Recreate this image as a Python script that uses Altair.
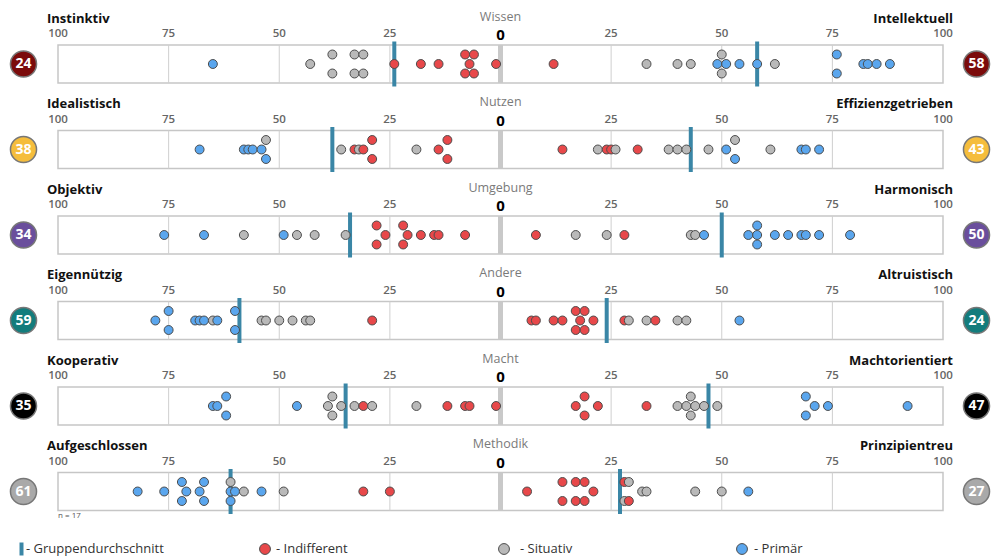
import altair as alt
import pandas as pd
import numpy as np

# ---------------- data ----------------
left_labels = ["Instinktiv", "Idealistisch", "Objektiv", "Eigennützig", "Kooperativ", "Aufgeschlossen"]
center_labels = ["Wissen", "Nutzen", "Umgebung", "Andere", "Macht", "Methodik"]
right_labels = ["Intellektuell", "Effizienzgetrieben", "Harmonisch", "Altruistisch", "Machtorientiert", "Prinzipientreu"]
left_avg = [24, 38, 34, 59, 35, 61]
right_avg = [58, 43, 50, 24, 47, 27]
badge_colors = ["#7b0b0b", "#f5bd3c", "#6a4e9c", "#137c7c", "#000000", "#a9a9a9"]
tick_values = [-100, -75, -50, -25, 0, 25, 50, 75, 100]
grid_values = [-75, -50, -25, 25, 50, 75]
n_text = "n = 17"

# categories: I = Indifferent, S = Situativ, P = Primär
wissen_left_val = [65, 43, 38, 38, 33, 33, 31, 31, 24, 18, 14, 8, 8, 7, 6, 6, 1]
wissen_left_cat = "PSSSSSSSIIIIIIIII"
wissen_right_val = [12, 33, 40, 43, 50, 50, 49, 51, 54, 58, 62, 76, 76, 82, 83, 85, 88]
wissen_right_cat = "ISSSSSPPPPSPPPPPP"

nutzen_left_val = [68, 58, 57, 56, 54, 53, 53, 36, 33, 32, 31, 29, 29, 19, 14, 12, 12]
nutzen_left_cat = "PPPPPSPSISIIISIII"
nutzen_right_val = [14, 22, 24, 25, 26, 31, 38, 40, 42, 47, 51, 53, 53, 61, 68, 69, 72]
nutzen_right_cat = "ISIISISSSSPSPSPPP"

umgebung_left_val = [76, 67, 58, 49, 46, 42, 35, 28, 28, 26, 22, 22, 21, 18, 15, 14, 8]
umgebung_left_cat = "PPSPSSSIIIIIIIIII"
umgebung_right_val = [8, 17, 24, 28, 43, 44, 46, 56, 58, 58, 58, 62, 65, 68, 69, 72, 79]
umgebung_right_cat = "ISSISSPPPPPPPPPPP"

andere_left_val = [78, 75, 75, 69, 68, 67, 65, 64, 60, 60, 54, 53, 50, 47, 44, 43, 29]
andere_left_cat = "PPPPPPSPPPSSSSSSI"
andere_right_val = [7, 8, 12, 14, 17, 17, 18, 19, 19, 21, 28, 29, 33, 35, 40, 42, 54]
andere_right_cat = "IIIIIIIIIIISSISSP"

macht_left_val = [65, 64, 62, 62, 46, 39, 38, 38, 36, 33, 31, 29, 19, 12, 8, 7, 1]
macht_left_cat = "PPPPPSSSSSISSIIII"
macht_right_val = [17, 19, 19, 22, 33, 40, 42, 43, 43, 44, 46, 49, 69, 69, 71, 74, 92]
macht_right_cat = "IIIIISSSSSSSPPPPP"

methodik_left_val = [82, 76, 72, 72, 71, 68, 67, 67, 61, 61, 61, 60, 58, 54, 49, 31, 25]
methodik_left_cat = "PPPPPPPPSPPPSPSII"
methodik_right_val = [6, 14, 14, 17, 17, 19, 19, 21, 28, 28, 29, 29, 32, 33, 44, 50, 56]
methodik_right_cat = "IIIIIIIIISSISSSSP"

cat_codes = ["I", "S", "P"]
cat_colors = ["#e8484a", "#b9b9b9", "#5aa6ee"]
avg_color = "#3a86a6"
legend_labels = ["- Gruppendurchschnitt", "- Indifferent", "- Situativ", "- Primär"]

series = [
    (wissen_left_val, wissen_left_cat, wissen_right_val, wissen_right_cat),
    (nutzen_left_val, nutzen_left_cat, nutzen_right_val, nutzen_right_cat),
    (umgebung_left_val, umgebung_left_cat, umgebung_right_val, umgebung_right_cat),
    (andere_left_val, andere_left_cat, andere_right_val, andere_right_cat),
    (macht_left_val, macht_left_cat, macht_right_val, macht_right_cat),
    (methodik_left_val, methodik_left_cat, methodik_right_val, methodik_right_cat),
]

# ---------------- layout ----------------
W, H = 984, 548
X0, X1 = 50, 935            # pixel of -100 / +100
ppu = (X1 - X0) / 200.0
xdom = [-100 - X0 / ppu, 100 + (W - X1) / ppu]
T0, PITCH, BOX_H = 37, 85.5, 38
LANE = 9.5
FONT = "Open Sans"

rows = pd.DataFrame({
    "row": range(6),
    "left": left_labels, "center": center_labels, "right": right_labels,
    "lavg": left_avg, "ravg": right_avg, "bcol": badge_colors,
})
rows["T"] = T0 + rows["row"] * PITCH
rows["B"] = rows["T"] + BOX_H
rows["C"] = rows["T"] + BOX_H / 2
rows["lab_y"] = rows["T"] - 26.5
rows["tick_y"] = rows["T"] - 11
rows["avg_t"] = rows["T"] - 3.5
rows["avg_b"] = rows["B"] + 3.5

# dots
recs = []
for r, (lv, lc, rv, rc) in enumerate(series):
    for sign, vals, cats in ((-1, lv, lc), (1, rv, rc)):
        for v, c in zip(vals, cats):
            recs.append({"row": r, "side": sign, "val": v, "x": sign * v, "cat": c})
dots = pd.DataFrame(recs)
dots["order"] = range(len(dots))
grp = dots.groupby(["row", "side", "val"])
dots["n"] = grp["val"].transform("size")
dots["idx"] = grp.cumcount()
dots["lane"] = np.where(dots["n"] == 2, 2 * dots["idx"] - 1, dots["idx"] - (dots["n"] - 1) / 2)
dots = dots.merge(rows[["row", "C"]], on="row")
dots["y"] = dots["C"] + dots["lane"] * LANE
dots = dots.sort_values("order")

# grid
grid = rows[["row", "T", "B"]].merge(pd.DataFrame({"g": grid_values}), how="cross")
# ticks
ticks = rows[["row", "tick_y"]].merge(pd.DataFrame({"t": tick_values}), how="cross")
ticks["label"] = ticks["t"].abs().astype(str)
ticks_nz = ticks[ticks["t"] != 0]
ticks_z = ticks[ticks["t"] == 0]
# averages
avgs = pd.concat([
    rows.assign(ax=-rows["lavg"]),
    rows.assign(ax=rows["ravg"]),
])
# badges
badges = pd.concat([
    rows.assign(bx=15.5, num=rows["lavg"]),
    rows.assign(bx=W - 15.5, num=rows["ravg"]),
])

xs = alt.Scale(domain=xdom, nice=False, zero=False)
ys = alt.Scale(domain=[0, H], range=[0, H], nice=False, zero=False)
pxs = alt.Scale(domain=[0, W], range=[0, W], nice=False, zero=False)


def X(f):
    return alt.X(f, type="quantitative", scale=xs, axis=None)


def Y(f):
    return alt.Y(f, type="quantitative", scale=ys, axis=None)


def Y2(f):
    return alt.Y2(f)


base_rows = alt.Chart(rows)

box = base_rows.mark_rect(fill="white", stroke="#c6c6c6", strokeWidth=1.5).encode(
    x=alt.X(datum=-100, type="quantitative", scale=xs, axis=None),
    x2=alt.X2(datum=100),
    y=Y("T"), y2=Y2("B"),
)
gridl = alt.Chart(grid).mark_rule(color="#cfcfcf", strokeWidth=1).encode(
    x=X("g"), y=Y("T"), y2=Y2("B")
)
center = base_rows.mark_rule(color="#c9c9c9", strokeWidth=5).encode(
    x=alt.X(datum=0, type="quantitative", scale=xs, axis=None),
    y=Y("T"), y2=Y2("B"),
)
avgl = alt.Chart(avgs).mark_rule(color=avg_color, strokeWidth=4).encode(
    x=X("ax"), y=Y("avg_t"), y2=Y2("avg_b")
)
pts = alt.Chart(dots).mark_circle(size=80, opacity=1, stroke="#4d4d4d", strokeWidth=1).encode(
    x=X("x"), y=Y("y"),
    color=alt.Color("cat:N", scale=alt.Scale(domain=cat_codes, range=cat_colors), legend=None),
    order=alt.Order("order:Q"),
)
tick_txt = alt.Chart(ticks_nz).mark_text(
    font=FONT, fontSize=11.5, fontWeight=600, color="#666666", baseline="middle", align="center"
).encode(x=X("t"), y=Y("tick_y"), text="label:N")
zero_txt = alt.Chart(ticks_z).mark_text(
    font=FONT, fontSize=15, fontWeight="bold", color="#000000", baseline="middle", align="center", dy=1
).encode(x=X("t"), y=Y("tick_y"), text="label:N")

left_txt = base_rows.mark_text(
    font=FONT, fontSize=13, fontWeight="bold", color="#111111", baseline="middle", align="left"
).encode(x=alt.value(X0 - 11), y=Y("lab_y"), text="left:N")
right_txt = base_rows.mark_text(
    font=FONT, fontSize=13, fontWeight="bold", color="#111111", baseline="middle", align="right"
).encode(x=alt.value(X1 + 10), y=Y("lab_y"), text="right:N")
center_txt = base_rows.mark_text(
    font=FONT, fontSize=12.5, color="#7a7a7a", baseline="middle", align="center", dy=-2
).encode(x=alt.X(datum=0, type="quantitative", scale=xs, axis=None), y=Y("lab_y"), text="center:N")

badge = alt.Chart(badges).mark_circle(size=680, opacity=1, stroke="#777777", strokeWidth=1.5).encode(
    x=alt.X("bx:Q", scale=pxs, axis=None),
    y=Y("C"),
    color=alt.Color("bcol:N", scale=None),
)
badge_txt = alt.Chart(badges).mark_text(
    font=FONT, fontSize=14, fontWeight="bold", color="white", baseline="middle", align="center"
).encode(
    x=alt.X("bx:Q", scale=pxs, axis=None),
    y=Y("C"), text="num:N",
)

nrow = rows[rows["row"] == 5].assign(ny=lambda d: d["B"] + 5.5, nt=n_text)
n_txt = alt.Chart(nrow).mark_text(
    font=FONT, fontSize=8, color="#555555", baseline="middle", align="left"
).encode(x=alt.value(X0), y=Y("ny"), text="nt:N")

# legend
LEG_Y = 541
leg_sym_x = [13.5, 257, 496, 734]
leg_txt_x = [18, 268, 512, 746]
leg = pd.DataFrame({
    "label": legend_labels,
    "col": [avg_color] + cat_colors,
    "sx": leg_sym_x, "tx": leg_txt_x,
    "kind": ["bar", "dot", "dot", "dot"],
})
leg["y"] = LEG_Y
leg["y1"] = LEG_Y - 6.5
leg["y2"] = LEG_Y + 6.5
leg_bar = alt.Chart(leg[leg["kind"] == "bar"]).mark_rule(strokeWidth=4).encode(
    x=alt.X("sx:Q", scale=pxs, axis=None), y=Y("y1"), y2=Y2("y2"),
    color=alt.Color("col:N", scale=None),
)
leg_dot = alt.Chart(leg[leg["kind"] == "dot"]).mark_circle(size=118, opacity=1, stroke="#4d4d4d", strokeWidth=1).encode(
    x=alt.X("sx:Q", scale=pxs, axis=None), y=Y("y"),
    color=alt.Color("col:N", scale=None),
)
leg_txt = alt.Chart(leg).mark_text(
    font=FONT, fontSize=13, color="#333333", baseline="middle", align="left"
).encode(x=alt.X("tx:Q", scale=pxs, axis=None), y=Y("y"), text="label:N")

chart = alt.layer(
    box, gridl, center, avgl, pts, tick_txt, zero_txt, left_txt, right_txt, center_txt,
    badge, badge_txt, n_txt, leg_bar, leg_dot, leg_txt,
).resolve_scale(x="independent", color="independent").properties(
    width=W, height=H, padding=0, autosize=alt.AutoSizeParams(type="none"),
).configure_view(stroke=None)

chart.save("out.html", embed_options={"renderer": "svg", "actions": False})
